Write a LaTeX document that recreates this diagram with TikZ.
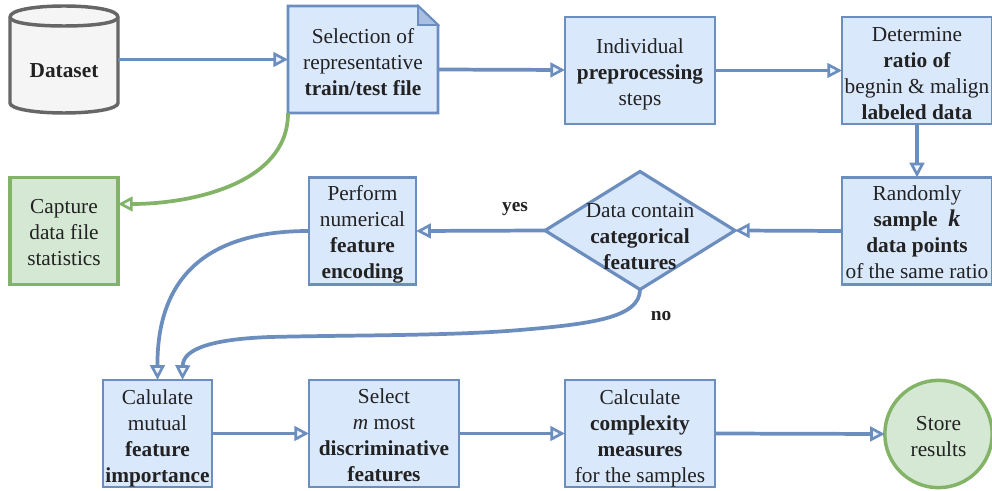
\documentclass[tikz,border=0pt]{standalone}
\usepackage{fontspec}
\setmainfont{Liberation Serif}
\usetikzlibrary{arrows.meta,shapes.geometric,calc}
\definecolor{bfill}{HTML}{DAE8FC}
\definecolor{bline}{HTML}{6C8EBF}
\definecolor{gfill}{HTML}{D5E8D4}
\definecolor{gline}{HTML}{82B366}
\definecolor{cfill}{HTML}{F5F5F5}
\definecolor{cline}{HTML}{666666}
\definecolor{ink}{HTML}{222222}
\newcommand{\lowered}[2]{\raisebox{\dimexpr-#1-4pt\relax}[0pt][0pt]{\setlength{\tabcolsep}{0pt}\begin{tabular}{c}#2\end{tabular}}}
\tikzset{
  base/.style={inner sep=0pt,outer sep=0pt,align=center,text=ink,font=\fontsize{16}{19.5}\selectfont},
  bluebox/.style={base,draw=bline,fill=bfill,line width=1.9pt,minimum height=80.5pt},
  greenbox/.style={base,draw=gline,fill=gfill,line width=2.6pt,minimum width=81pt,minimum height=80.5pt},
  plain/.style={base,minimum width=112.5pt,minimum height=80.5pt},
  decision/.style={base,draw=bline,fill=bfill,line width=2.4pt,diamond,aspect=1.6,minimum width=142.5pt,minimum height=88.5pt},
  ender/.style={base,draw=gline,fill=gfill,line width=2.6pt,circle,minimum size=80.5pt},
  lab/.style={base,font=\fontsize{14.5}{16}\selectfont\bfseries},
  conn/.style={draw=bline,line width=2.8pt,-{Triangle[open,fill=bfill!40!white,length=11pt,width=11pt,line width=2pt]}},
  gconn/.style={conn,draw=gline},
}
\begin{document}
\begin{tikzpicture}[x=0.75pt,y=-0.75pt]
\useasboundingbox[fill=white] (0,0) rectangle (992,491);
% cylinder
\draw[draw=cline,fill=cfill,line width=2.6pt]
  (10,17) -- (10,103) .. controls (10,109) and (35,113) .. (64,113)
  .. controls (93,113) and (118,109) .. (118,103) -- (118,17)
  .. controls (118,10) and (93,6) .. (64,6) .. controls (35,6) and (10,10) .. (10,17) -- cycle;
\draw[draw=cline,line width=2.6pt]
  (10,17) .. controls (10,23) and (35,26) .. (64,26) .. controls (93,26) and (118,23) .. (118,17);
\node[base,minimum width=81pt,minimum height=80.5pt] (dataset) at (64,59.5) {};
\node[base,font=\fontsize{16}{19.5}\selectfont\bfseries] (datasetlab) at (64,70.5) {Dataset};
% document
\draw[draw=bline,fill=bfill,line width=1.9pt]
  (288,6) -- (418,6) -- (438,25) -- (438,113) -- (288,113) -- cycle;
\draw[draw=bline,fill=bline!45!bfill,line width=1.3pt] (418,6) -- (418,25) -- (438,25) -- cycle;
\node[plain] (doc) at (363,59.5) {\lowered{3.7pt}{Selection of\\representative\\\textbf{train/test file}}};
\node[bluebox,minimum width=112.5pt] (ind) at (640,70.5) {\lowered{3.35pt}{Individual\\\textbf{preprocessing}\\steps}};
\node[bluebox,minimum width=112.5pt] (det) at (917,70.5) {\lowered{4pt}{Determine\\\textbf{ratio of}\\begnin \& malign\\\textbf{labeled data}}};
\node[bluebox,minimum width=112.5pt] (rand) at (917,231) {\lowered{3pt}{Randomly\\\textbf{sample}\ \ {\fontsize{18}{19.5}\selectfont\textit{\textbf{k}}}\\\textbf{data points}\\of the same ratio}};
\node[decision] (dec) at (640,230.5) {};
\node[base] (dectext) at (640,237) {Data contain\\\textbf{categorical}\\\textbf{features}};
\node[bluebox,minimum width=80.5pt] (perf) at (362.5,231) {\lowered{3pt}{Perform\\numerical\\\textbf{feature}\\\textbf{encoding}}};
\node[greenbox] (cap) at (64,231) {\lowered{3.1pt}{Capture\\data file\\statistics}};
\node[bluebox,minimum width=81.5pt] (mut) at (157.5,433.5) {\lowered{3.75pt}{Calulate\\mutual\\\textbf{feature}\\\textbf{importance}}};
\node[bluebox,minimum width=112.5pt] (sel) at (384,433.5) {\lowered{3.5pt}{Select\\\textit{m} most\\\textbf{discriminative}\\\textbf{features}}};
\node[bluebox,minimum width=112.5pt] (comp) at (640,433.5) {\lowered{3.75pt}{Calculate\\\textbf{complexity}\\\textbf{measures}\\for the samples}};
\node[ender] (store) at (938.5,434) {\lowered{3.8pt}{Store\\results}};
\node[lab] (yes) at (515,209) {yes};
\node[lab] (no) at (661,316) {no};
% connectors
\draw[conn] (dataset.east) -- (doc.west);
\draw[conn] ($(doc.east)+(0,10)$) -- ($(ind.west)+(0,-0.5)$);
\draw[conn] (ind.east) -- (det.west);
\draw[conn] (det.south) -- (rand.north);
\draw[conn] (rand.west) -- (dec.east);
\draw[conn] (dec.west) -- (perf.east);
\draw[conn] (perf.west) .. controls (215,231) and (157,270) .. (mut.north);
\draw[conn] (dec.south) .. controls (640,318) and (590,324) .. (520,330) .. controls (450,336) and (350,335) .. (270,337)
  .. controls (215,339) and (183,348) .. ($(mut.north)+(25,0)$);
\draw[gconn] (doc.south west) .. controls +(0,72) and +(70,0) .. ($(cap.east)+(0,-27)$);
\draw[conn] (mut.east) -- (sel.west);
\draw[conn] (sel.east) -- (comp.west);
\draw[conn] (comp.east) -- (store.west);
\end{tikzpicture}
\end{document}
